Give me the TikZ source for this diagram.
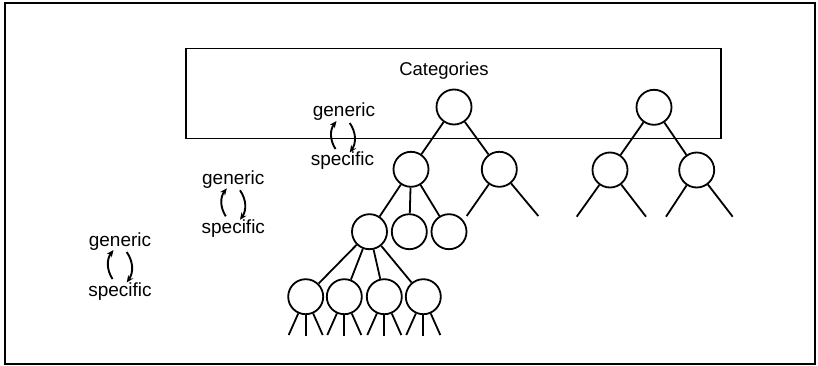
\documentclass[tikz,border=0pt]{standalone}
\usepackage{fontspec}
\setmainfont{Liberation Sans}
\usetikzlibrary{arrows.meta}
\begin{document}
\begin{tikzpicture}[x=1pt,y=-1pt,
  nd/.style={draw,circle,minimum size=35pt,inner sep=0pt,line width=1.8pt},
  ln/.style={line width=1.8pt},
  lbl/.style={font=\fontsize{19}{22}\selectfont,inner sep=0pt,anchor=base},
  gs/.style={line width=1.9pt,-{Stealth[length=7pt,width=6pt]},bend left=35}]
\useasboundingbox (0,0) rectangle (818,366);
\draw[line width=2pt] (5,3) rectangle (815,364);
% categories box
\node[draw,line width=1.8pt,minimum width=535pt,minimum height=90pt,inner sep=0pt] (catbox) at (453.3,93.5) {};
\node[font=\fontsize{18.5}{22}\selectfont,inner sep=0pt,anchor=base] (cattext) at (444,76) {Categories};
% left tree
\node[nd] (A) at (454,107) {};
\node[nd] (B) at (411,169.3) {};
\node[nd] (C) at (499.3,169.3) {};
\node[nd] (D) at (369.5,231.7) {};
\node[nd] (E) at (409.3,231.7) {};
\node[nd] (F) at (449,231.7) {};
\node[nd] (G1) at (305.7,296.7) {};
\node[nd] (G2) at (344.3,296.7) {};
\node[nd] (G3) at (384.3,296.7) {};
\node[nd] (G4) at (423.3,296.7) {};
% right tree
\node[nd] (R) at (654,107.3) {};
\node[nd] (R1) at (610,170) {};
\node[nd] (R2) at (696.7,170) {};
% edges
\draw[ln] (A) -- (B);
\draw[ln] (A) -- (C);
\draw[ln] (B) -- (D);
\draw[ln] (B) -- (E);
\draw[ln] (B) -- (F);
\foreach \g in {G1,G2,G3,G4} { \draw[ln] (D) -- (\g); }
\draw[ln] (R) -- (R1);
\draw[ln] (R) -- (R2);
% leaf stubs
\coordinate (c1) at (466.7,216);
\coordinate (c2) at (538.3,216);
\draw[ln] (C) -- (c1);
\draw[ln] (C) -- (c2);
\coordinate (r11) at (576.7,216.7);
\coordinate (r12) at (646,216.7);
\coordinate (r21) at (666,216.7);
\coordinate (r22) at (732.7,216.7);
\draw[ln] (R1) -- (r11);
\draw[ln] (R1) -- (r12);
\draw[ln] (R2) -- (r21);
\draw[ln] (R2) -- (r22);
\foreach \g/\x in {G1/305.7,G2/344.3,G3/384.3,G4/423.3} {
  \coordinate (\g a) at (\x-17,335);
  \coordinate (\g b) at (\x,335.5);
  \coordinate (\g c) at (\x+17,335);
  \draw[ln] (\g) -- (\g a);
  \draw[ln] (\g) -- (\g b);
  \draw[ln] (\g) -- (\g c);
}
% generic / specific labels
\node[lbl] (gen1) at (344,117) {generic};
\node[lbl] (spe1) at (342.5,166) {specific};
\node[lbl] (gen2) at (233.3,184.3) {generic};
\node[lbl] (spe2) at (233.3,233.3) {specific};
\node[lbl] (gen3) at (120,246) {generic};
\node[lbl] (spe3) at (120,296) {specific};
\foreach \i/\cx/\gb/\sb in {1/343/117/166, 2/233.3/184.3/233.3, 3/120/246/296} {
  \coordinate (up\i s) at (\cx-7.5,\sb-17);
  \coordinate (up\i e) at (\cx-6.5,\gb+4);
  \coordinate (dn\i s) at (\cx+6.7,\gb+6);
  \coordinate (dn\i e) at (\cx+6.7,\sb-13.5);
  \draw[gs] (up\i s) to (up\i e);
  \draw[gs] (dn\i s) to (dn\i e);
}
\end{tikzpicture}
\end{document}
